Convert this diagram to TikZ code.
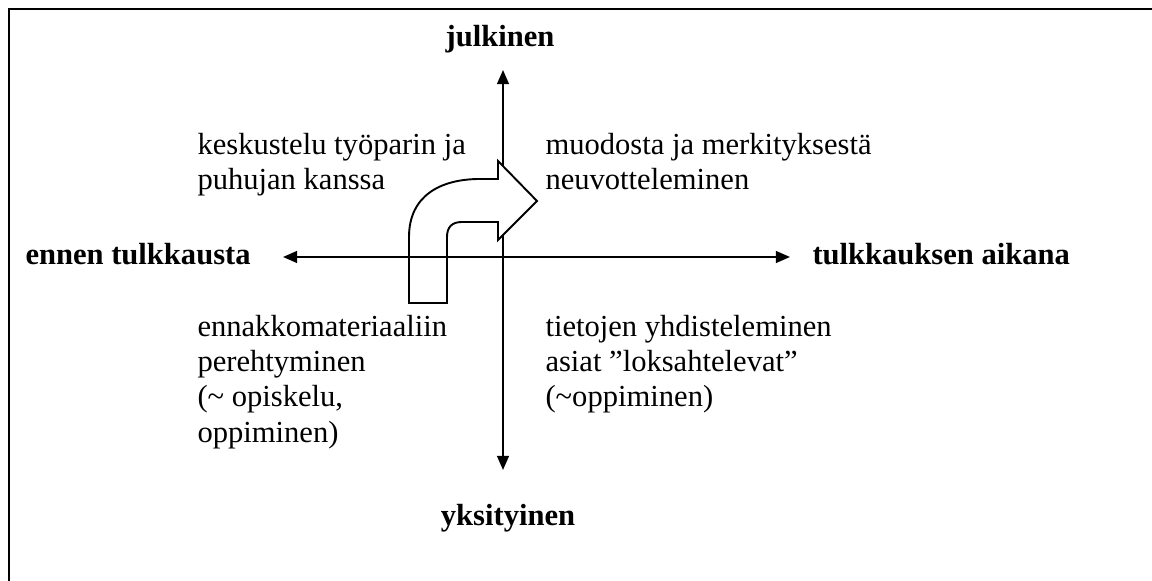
\documentclass[tikz,border=0pt]{standalone}
\usepackage{fontspec}
\setmainfont{Liberation Serif}
\usepackage{tikz}
\usetikzlibrary{arrows.meta}
\tikzset{
  font={\fontsize{12pt}{13.8pt}\selectfont}}

\begin{document}
\begin{tikzpicture}[x=0.01379cm,y=-0.01379cm]
\tikzstyle{every node}+=[inner sep=0pt]
\tikzstyle{akseli}=[black, line width=0.75pt, -{Triangle[length=5.5pt,width=4.6pt]}]
\tikzstyle{otsikko}=[font={\fontsize{12pt}{13.8pt}\selectfont\bfseries}]
\tikzstyle{rivi}=[anchor=base west]
\useasboundingbox (0,0) rectangle (1152,581);
\draw [black, line width=1pt] (9,581) -- (9,9) -- (1152,9);
\coordinate (o) at (503,257);
\coordinate (ylos) at (503,70);
\coordinate (alas) at (503,470);
\coordinate (vasen) at (283,257);
\coordinate (oikea) at (790,257);
\draw [akseli] (o) -- (ylos);
\draw [akseli] (o) -- (alas);
% taivutettu nuoli
\draw [black, fill=white, line width=0.75pt] (409,303) -- (409,237)
  .. controls (409,196) and (440,179) .. (480,179) -- (498,179) -- (498,161)
  -- (537,201) -- (498,240) -- (498,222) -- (462,222)
  .. controls (452,222) and (447,227) .. (447,237) -- (447,303) -- cycle;
\draw [akseli] (o) -- (vasen);
\draw [akseli] (o) -- (oikea);
\node (julk) [otsikko, anchor=base] at (500,47) {julkinen};
\node (yksi) [otsikko, anchor=base] at (508,526) {yksityinen};
\node (ennen) [otsikko, anchor=base west] at (25,265) {ennen tulkkausta};
\node (aikana) [otsikko, anchor=base west] at (812,265) {tulkkauksen aikana};
% ylavasen
\node (kesk1) [rivi] at (197,155) {keskustelu työparin ja};
\node (kesk2) [rivi] at (197,190) {puhujan kanssa};
% ylaoikea
\node (muod1) [rivi] at (545,155) {muodosta ja merkityksestä};
\node (muod2) [rivi] at (545,190) {neuvotteleminen};
% alavasen
\node (ennak1) [rivi] at (197,337) {ennakkomateriaaliin};
\node (ennak2) [rivi] at (197,372) {perehtyminen};
\node (ennak3) [rivi] at (197,407) {(\textasciitilde{} opiskelu,};
\node (ennak4) [rivi] at (197,443) {oppiminen)};
% alaoikea
\node (tiet1) [rivi] at (545,337) {tietojen yhdisteleminen};
\node (tiet2) [rivi] at (545,372) {asiat \textquotedblright loksahtelevat\textquotedblright};
\node (tiet3) [rivi] at (545,407) {(\textasciitilde oppiminen)};
\end{tikzpicture}
\end{document}
